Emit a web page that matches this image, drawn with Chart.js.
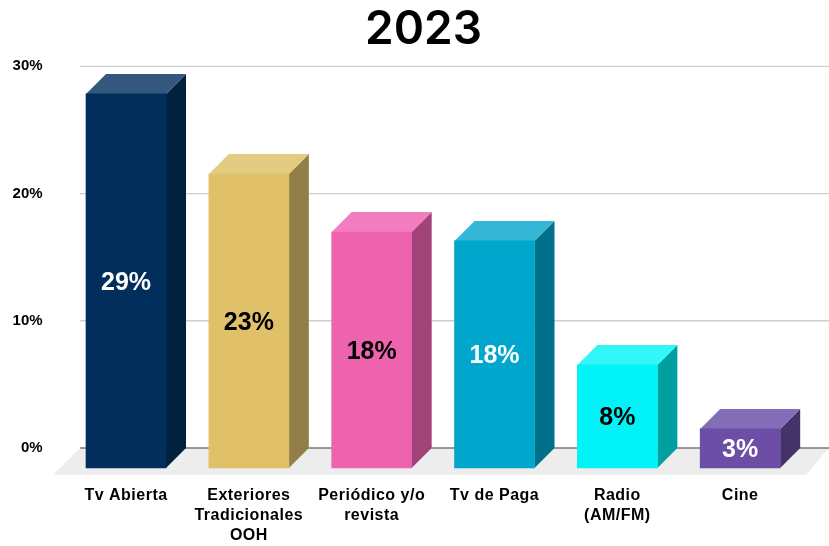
<!DOCTYPE html>
<html>
<head>
<meta charset="utf-8">
<title>2023</title>
<style>
  html, body { margin: 0; padding: 0; background: #fff; }
  canvas { display: block; }
</style>
<script src="https://cdn.jsdelivr.net/npm/chart.js@4"></script>
</head>
<body>
<canvas id="ch" width="829" height="546"></canvas>
<script>
const categories = ['Tv Abierta', ['Exteriores', 'Tradicionales', 'OOH'], ['Periódico y/o', 'revista'], 'Tv de Paga', ['Radio', '(AM/FM)'], 'Cine'];
const values = [29.4, 23.1, 18.55, 17.85, 8.1, 3.07];
const shownLabels = ['29%', '23%', '18%', '18%', '8%', '3%'];
const labelColors = ['#fff', '#000', '#000', '#fff', '#000', '#fff'];
const yTicks = [0, 10, 20, 30];
const frontColors = ['#012e5a', '#e0c068', '#ee63ae', '#01a6cc', '#00f3f6', '#6c4ea7'];
const topColors = ['#34587d', '#e3cb80', '#f27cbe', '#34b7d6', '#33f6f8', '#836db7'];
const sideColors = ['#01213f', '#917f47', '#9f4378', '#00708b', '#00a0a1', '#443369'];

const DEPTH = 20;      // px, offset of the back face
const DEPTH_VAL = 20 / 12.72; // same thing in axis units

// floor, grid lines and the top/side faces of the bars
const box3d = {
  id: 'box3d',
  afterLayout(chart) {
    // title sits a bit right of the canvas centre
    chart.titleBlock.left += 22.7;
    chart.titleBlock.right += 22.7;

    // category labels are slightly spaced out, the y labels are not
    const xs = chart.scales.x;
    if (!xs._spaced) {
      const draw = xs.drawLabels;
      xs.drawLabels = function (area) {
        chart.ctx.save();
        chart.ctx.letterSpacing = '0.5px';
        draw.call(this, area);
        chart.ctx.restore();
      };
      xs._spaced = true;
    }
  },
  beforeDatasetsDraw(chart) {
    const c = chart.ctx, y = chart.scales.y, a = chart.chartArea;
    const y0 = y.getPixelForValue(0);
    const gx0 = a.left + 15.4, gx1 = chart.width;

    c.save();
    c.fillStyle = '#ededed';
    c.beginPath();
    c.moveTo(gx0, y0);
    c.lineTo(gx1, y0);
    c.lineTo(gx1 - 23, a.bottom);
    c.lineTo(gx0 - 27, a.bottom);
    c.closePath();
    c.fill();

    yTicks.forEach(t => {
      const py = y.getPixelForValue(t);
      c.strokeStyle = t === 0 ? '#777' : '#cfcfcf';
      c.lineWidth = t === 0 ? 1.6 : 1.3;
      c.beginPath();
      c.moveTo(gx0, py);
      c.lineTo(gx1, py);
      c.stroke();
    });

    chart.getDatasetMeta(0).data.forEach((bar, i) => {
      const p = bar.getProps(['x', 'y', 'base', 'width'], true);
      const l = p.x - p.width / 2, r = p.x + p.width / 2;
      // floating bars can swap y and base when the low end is the larger one
      const top = Math.min(p.y, p.base), bottom = Math.max(p.y, p.base);
      c.fillStyle = sideColors[i];
      c.beginPath();
      c.moveTo(r, top);
      c.lineTo(r + DEPTH, top - DEPTH);
      c.lineTo(r + DEPTH, bottom - DEPTH);
      c.lineTo(r, bottom);
      c.closePath();
      c.fill();
      c.fillStyle = topColors[i];
      c.beginPath();
      c.moveTo(l, top);
      c.lineTo(l + DEPTH, top - DEPTH);
      c.lineTo(r + DEPTH, top - DEPTH);
      c.lineTo(r, top);
      c.closePath();
      c.fill();
    });
    c.restore();
  },
  afterDatasetsDraw(chart) {
    const c = chart.ctx;
    c.save();
    c.font = 'bold 25px "Liberation Sans", Arial, sans-serif';
    c.textAlign = 'center';
    c.textBaseline = 'middle';
    chart.getDatasetMeta(0).data.forEach((bar, i) => {
      const p = bar.getProps(['x', 'y', 'base'], true);
      c.fillStyle = labelColors[i];
      c.fillText(shownLabels[i], p.x, (p.y + p.base) / 2 + 2);
    });
    c.restore();
  }
};

new Chart(document.getElementById('ch'), {
  type: 'bar',
  data: {
    labels: categories,
    datasets: [{
      data: values.map(v => [-DEPTH_VAL, v - DEPTH_VAL]),
      backgroundColor: frontColors,
      borderWidth: 0,
      barThickness: 80
    }]
  },
  options: {
    responsive: false,
    animation: false,
    layout: { padding: { right: 27.4 } },
    plugins: {
      legend: { display: false },
      tooltip: { enabled: false },
      title: {
        display: true,
        text: '2023',
        color: '#000',
        font: { family: 'Inter, sans-serif', size: 46, weight: '600', lineHeight: 1.2 },
        padding: { top: 3, bottom: 8.1 }
      }
    },
    scales: {
      x: {
        grid: { display: false },
        border: { display: false },
        afterFit(s) { s.height = 71.3; },
        ticks: {
          color: '#000',
          maxRotation: 0,
          autoSkip: false,
          padding: 3,
          font: { family: '"Liberation Sans", Arial, sans-serif', size: 16, weight: 'bold', lineHeight: 1.25 }
        }
      },
      y: {
        min: -2.1,
        max: 30,
        grid: { display: false },
        border: { display: false },
        afterBuildTicks(s) { s.ticks = yTicks.map(v => ({ value: v })); },
        afterFit(s) { s.width = 64.6; },
        ticks: {
          color: '#000',
          padding: 14,
          callback: v => v + '%',
          font: { family: '"Liberation Sans", Arial, sans-serif', size: 15, weight: 'bold' }
        }
      }
    }
  },
  plugins: [box3d]
});
</script>
</body>
</html>
